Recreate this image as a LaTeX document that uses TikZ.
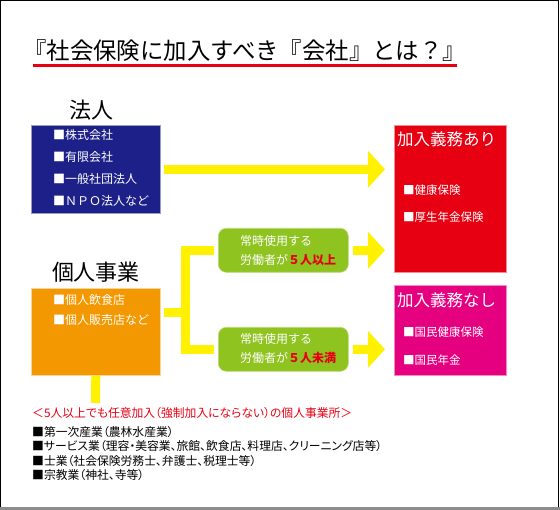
\documentclass[tikz,border=0pt]{standalone}
\usepackage{fontspec}
\setmainfont{Noto Sans CJK JP}
\newfontfamily\jpprop{Noto Sans CJK JP}[RawFeature=+palt]
\usetikzlibrary{arrows.meta}

\definecolor{navybox}{RGB}{29,32,136}
\definecolor{orangebox}{RGB}{243,152,0}
\definecolor{greenbox}{RGB}{143,195,31}
\definecolor{redbox}{RGB}{230,0,18}
\definecolor{pinkbox}{RGB}{228,0,127}
\definecolor{yellowbar}{RGB}{255,241,0}
\definecolor{redtext}{RGB}{230,0,18}

\tikzset{
  box/.style={rectangle, inner sep=0pt, anchor=north west, line width=0.6pt},
  gbox/.style={box, fill=greenbox, draw=greenbox!60!white, rounded corners=8pt,
    minimum width=130pt, minimum height=44pt},
  heading/.style={inner sep=0pt, font=\fontsize{22}{22}\selectfont},
  item/.style={anchor=west, inner sep=0pt, text=white, font=\fontsize{12}{12}\selectfont},
  note/.style={anchor=west, inner sep=0pt, font=\jpprop\fontsize{11.8}{12}\selectfont},
  ybar/.style={draw=yellowbar, line width=9pt},
  yarrow/.style={ybar, -{Triangle[width=36pt,length=17pt]}, shorten >=9pt},
}

\begin{document}
\begin{tikzpicture}[x=1pt, y=-1pt]
  \useasboundingbox (0,0) rectangle (560,510);

  % Frame
  \fill[gray!90] (0,507) rectangle (560,510);
  \draw[line width=1pt] (0.5,507) -- (0.5,0.5) -- (558,0.5) -- (558,507);

  % Title
  \node[anchor=west, inner sep=0pt, font=\fontsize{23.4}{24}\selectfont] (title) at (23,51)
    {『社会保険に加入すべき『会社』とは？』};
  \draw[redbox, line width=3pt] (33,66) -- (457,66);

  % Left boxes
  \node[heading] (corphead) at (91,110) {法人};
  \node[box, fill=navybox, draw=navybox!45!white, minimum width=129pt, minimum height=88pt]
    (corp) at (31,125) {};
  \foreach \t [count=\i from 0] in {■株式会社, ■有限会社, ■一般社団法人, ■ＮＰＯ法人など}
    \node[item] at (53,135+22*\i) {\t};

  \node[heading] (solehead) at (96,272.5) {個人事業};
  \node[box, fill=orangebox, draw=orangebox!40!white, minimum width=129pt, minimum height=87pt]
    (sole) at (31,288) {};
  \node[item] at (53,300) {■個人飲食店};
  \node[item] at (53,320) {■個人販売店など};

  % Middle boxes
  \node[gbox] (full) at (218,228) {};
  \node[item] at (240,241) {常時使用する};
  \node[item] at (240,260) {労働者が{\color{redtext}\bfseries ５人以上}};
  \node[gbox] (part) at (218,327) {};
  \node[item] at (240,339) {常時使用する};
  \node[item] at (240,357.5) {労働者が{\color{redtext}\bfseries ５人未満}};

  % Right boxes
  \node[box, fill=redbox, draw=redbox!45!white, minimum width=112pt, minimum height=147pt]
    (oblig) at (394,125) {};
  \node[item, font=\fontsize{16.5}{17}\selectfont] at (397,139) {加入義務あり};
  \node[item, font=\fontsize{11.5}{12}\selectfont] at (403,190) {■健康保険};
  \node[item, font=\fontsize{11.5}{12}\selectfont] at (403,217) {■厚生年金保険};

  \node[box, fill=pinkbox, draw=pinkbox!45!white, minimum width=112pt, minimum height=90pt]
    (exempt) at (394,285) {};
  \node[item, font=\fontsize{16.5}{17}\selectfont] at (397,300) {加入義務なし};
  \node[item, font=\fontsize{11.5}{12}\selectfont] at (403,332) {■国民健康保険};
  \node[item, font=\fontsize{11.5}{12}\selectfont] at (403,360) {■国民年金};

  % Connectors
  \coordinate (fork) at (185.5,313);
  \coordinate (drop) at (95.5,403);
  \draw[yarrow, shorten <=3pt] (corp.east) -- (corp.east -| oblig.west);
  \draw[ybar] ([xshift=-4pt]full.west) -| (fork) |- ([xshift=-4pt]part.west);
  \draw[ybar] ([xshift=3pt]sole.east |- fork) -- (fork);
  \draw[yarrow, shorten <=4pt] (full.east) -- (full.east -| oblig.west);
  \draw[yarrow, shorten <=4pt] (part.east) -- (part.east -| exempt.west);
  \draw[ybar] (sole.south) -- (drop);

  % Notes
  \node[note, text=redtext] at (32,413) {＜5人以上でも任意加入（強制加入にならない）の個人事業所＞};
  \foreach \t [count=\i from 0] in {■第一次産業（農林水産業）,
      ■サービス業（理容・美容業、旅館、飲食店、料理店、クリーニング店等）,
      ■士業（社会保険労務士、弁護士、税理士等）,
      ■宗教業（神社、寺等）}
    \node[note] at (32,432+14.5*\i) {\t};
\end{tikzpicture}
\end{document}
